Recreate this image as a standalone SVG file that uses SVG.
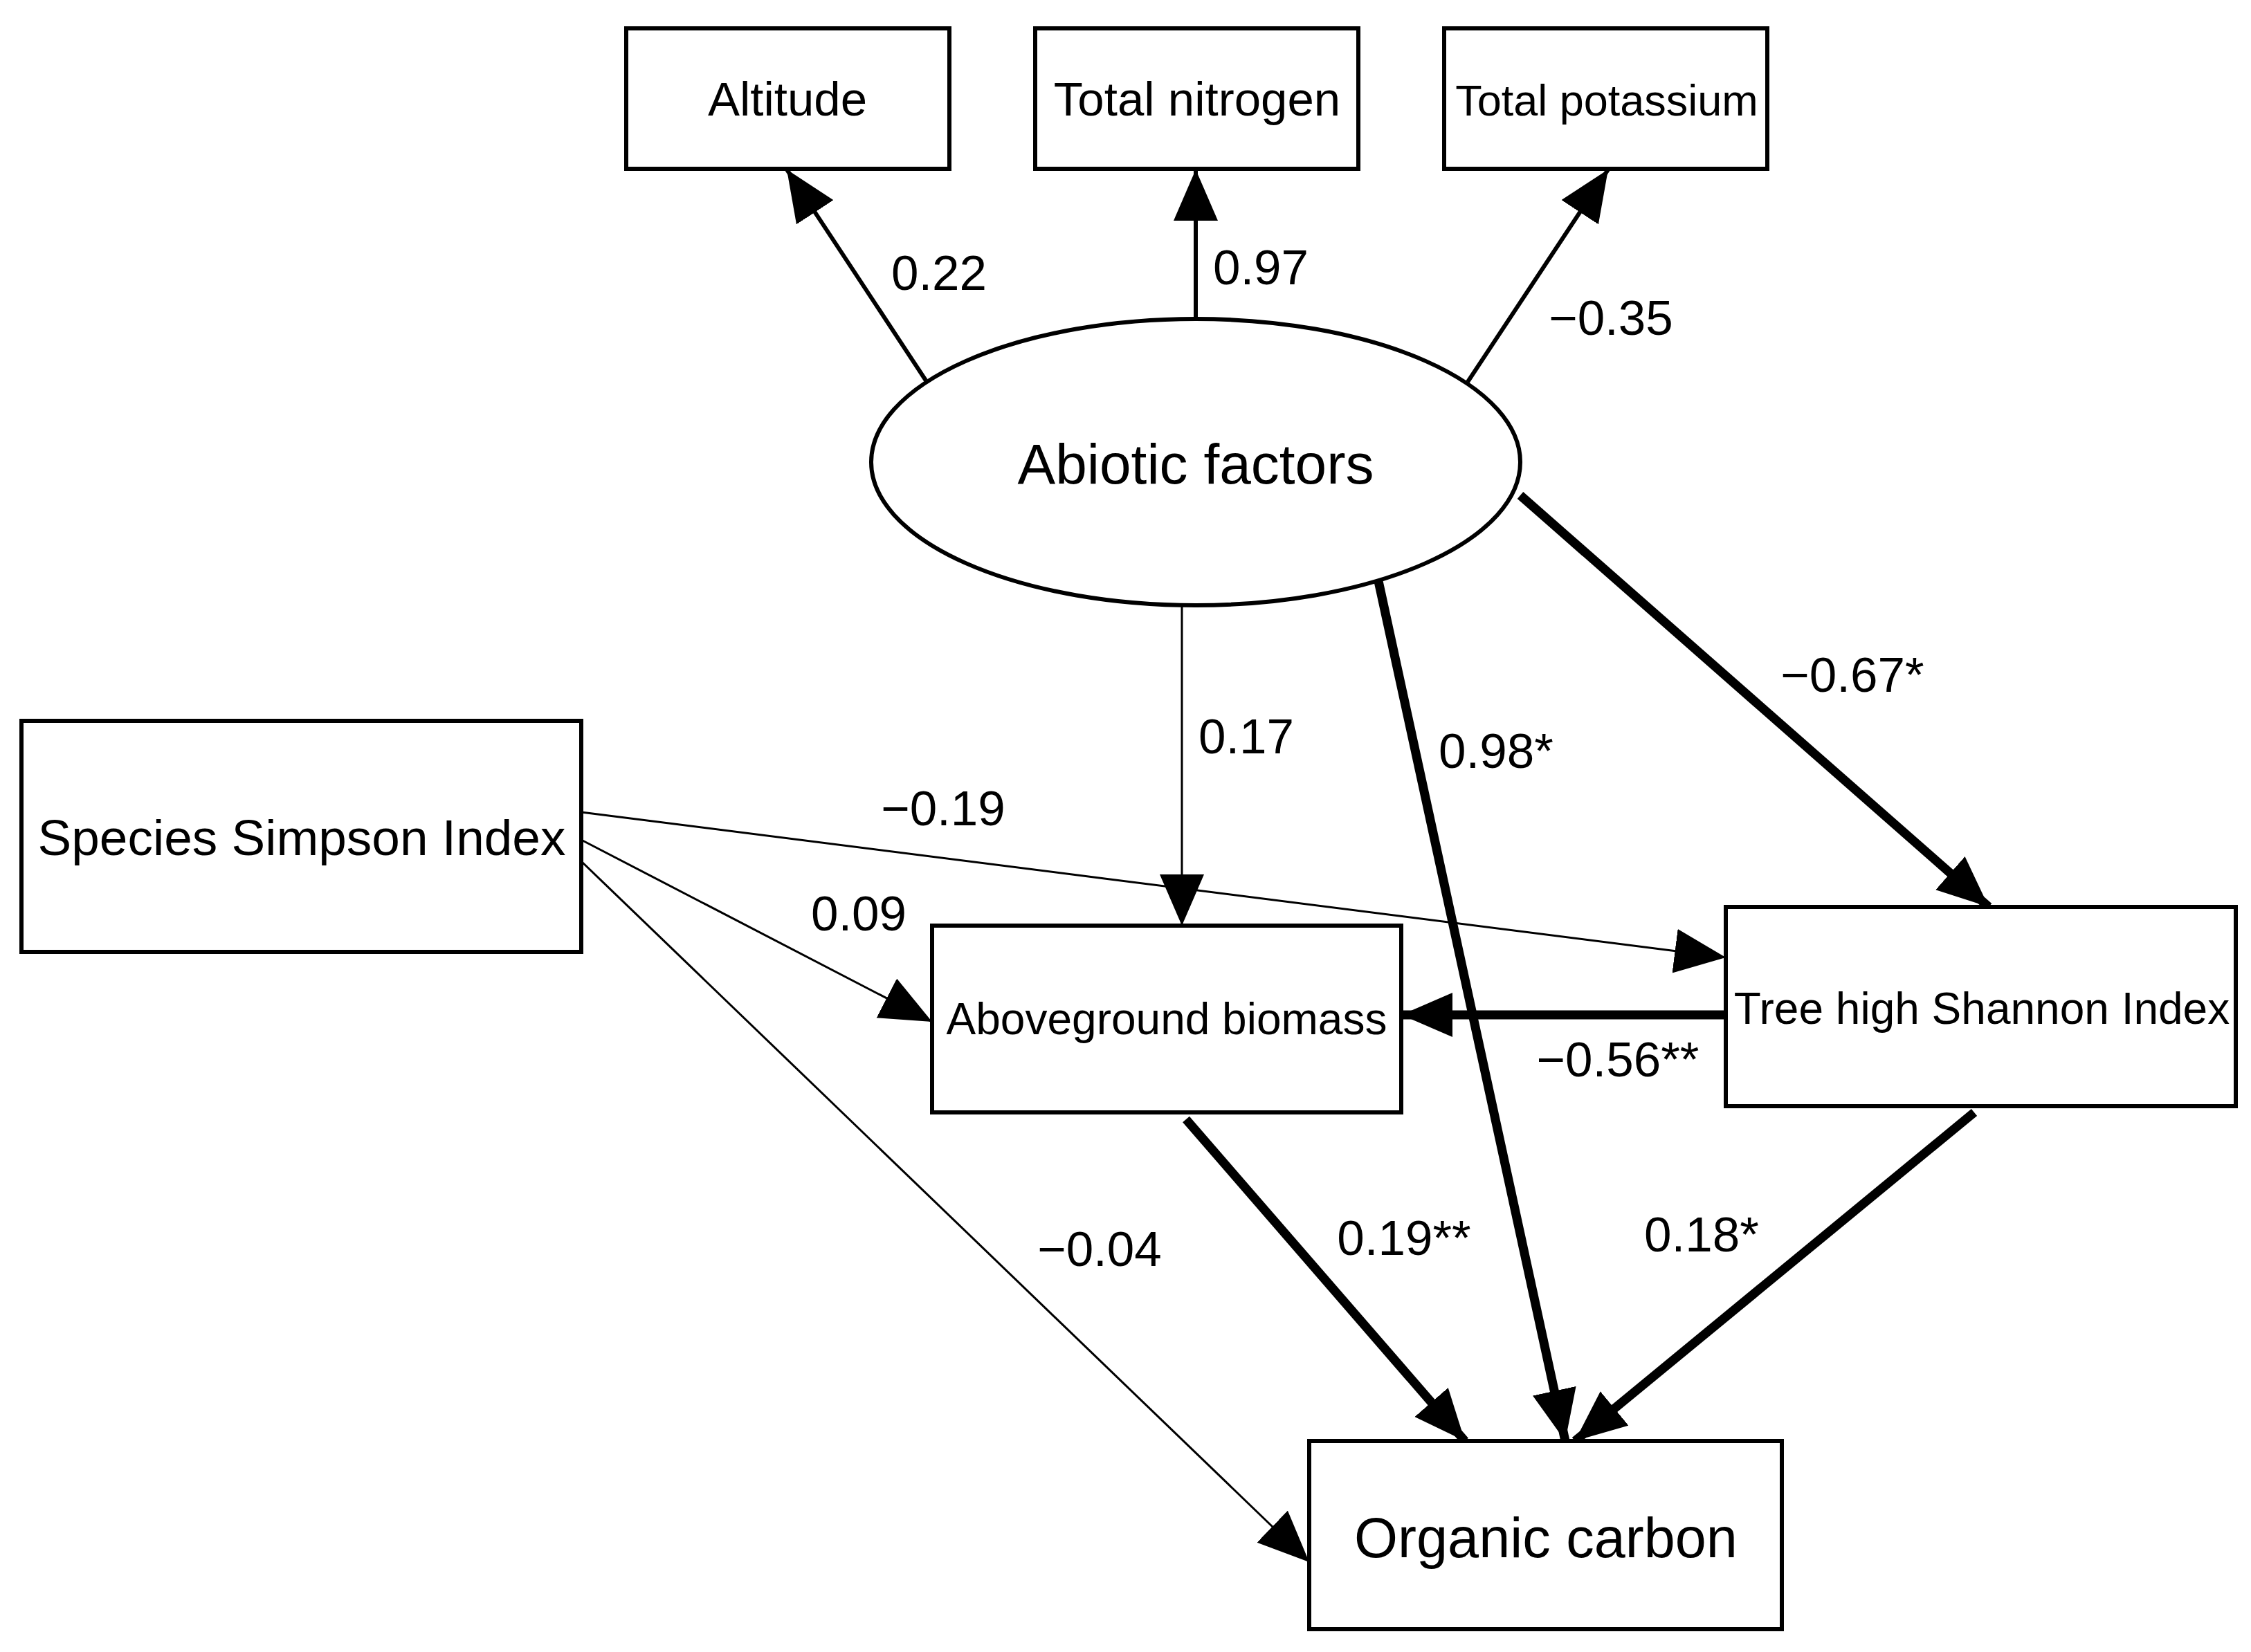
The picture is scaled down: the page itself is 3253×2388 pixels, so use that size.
<svg xmlns="http://www.w3.org/2000/svg" width="3253" height="2388" viewBox="0 0 3253 2388">
<style>
.n{fill:#fff;stroke:#000;stroke-width:6}
text{font-family:"Liberation Sans",Arial,sans-serif;fill:#000;text-anchor:middle;dominant-baseline:central}
.t{font-size:69px}
.l{font-size:71px}
.c line{stroke:#000}
.a{stroke-width:6}.s{stroke-width:3}.k{stroke-width:13}
</style>
<defs>
<marker id="h" markerUnits="userSpaceOnUse" markerWidth="80" markerHeight="70" refX="74" refY="32" orient="auto"><path d="M0,0 L74,32 L0,64 Z" fill="#000"/></marker>
</defs>
<rect width="3253" height="2388" fill="#fff"/>
<g class="c">
<line class="a" x1="1338" y1="550" x2="1137" y2="245" marker-end="url(#h)"/>
<line class="a" x1="1728" y1="461" x2="1728" y2="245" marker-end="url(#h)"/>
<line class="a" x1="2121" y1="552" x2="2324" y2="245" marker-end="url(#h)"/>
<line class="s" x1="1708" y1="876" x2="1708" y2="1338" marker-end="url(#h)"/>
<line class="k" x1="1992" y1="840" x2="2262" y2="2083" marker-end="url(#h)"/>
<line class="k" x1="2197" y1="716" x2="2874" y2="1311" marker-end="url(#h)"/>
<line class="s" x1="840" y1="1174" x2="2494" y2="1384" marker-end="url(#h)"/>
<line class="s" x1="840" y1="1214" x2="1347" y2="1477" marker-end="url(#h)"/>
<line class="s" x1="840" y1="1245" x2="1892" y2="2258" marker-end="url(#h)"/>
<line class="k" x1="2494" y1="1467" x2="2025" y2="1467" marker-end="url(#h)"/>
<line class="k" x1="1714" y1="1618" x2="2117" y2="2083" marker-end="url(#h)"/>
<line class="k" x1="2853" y1="1608" x2="2276" y2="2083" marker-end="url(#h)"/>
</g>
<g id="altitude"><rect class="n" x="905" y="41" width="467" height="203"/><text class="t" x="1138" y="143">Altitude</text></g>
<g id="nitrogen"><rect class="n" x="1496" y="41" width="467" height="203"/><text class="t" x="1730" y="143">Total nitrogen</text></g>
<g id="potassium"><rect class="n" x="2087" y="41" width="467" height="203"/><text class="t" x="2322" y="145" style="font-size:63px">Total potassium</text></g>
<g id="abiotic"><ellipse class="n" cx="1728" cy="668" rx="469" ry="207"/><text x="1728" y="670" style="font-size:82px">Abiotic factors</text></g>
<g id="simpson"><rect class="n" x="31" y="1042" width="809" height="334"/><text x="436" y="1210" style="font-size:73px">Species Simpson Index</text></g>
<g id="biomass"><rect class="n" x="1347" y="1338" width="678" height="270"/><text x="1686" y="1473" style="font-size:64px">Aboveground biomass</text></g>
<g id="shannon"><rect class="n" x="2494" y="1311" width="737" height="288"/><text x="2864" y="1458" style="font-size:64px">Tree high Shannon Index</text></g>
<g id="carbon"><rect class="n" x="1892" y="2083" width="683" height="272"/><text x="2234" y="2223" style="font-size:81px">Organic carbon</text></g>
<g id="labels">
<text class="l" x="1357" y="394">0.22</text>
<text class="l" x="1822" y="386">0.97</text>
<text class="l" x="2328" y="459">−0.35</text>
<text class="l" x="1801" y="1064">0.17</text>
<text class="l" x="2162" y="1085">0.98*</text>
<text class="l" x="2677" y="975">−0.67*</text>
<text class="l" x="1363" y="1168">−0.19</text>
<text class="l" x="1241" y="1320">0.09</text>
<text class="l" x="2338" y="1531">−0.56**</text>
<text class="l" x="1589" y="1805">−0.04</text>
<text class="l" x="2029" y="1789">0.19**</text>
<text class="l" x="2459" y="1784">0.18*</text>
</g>
</svg>
